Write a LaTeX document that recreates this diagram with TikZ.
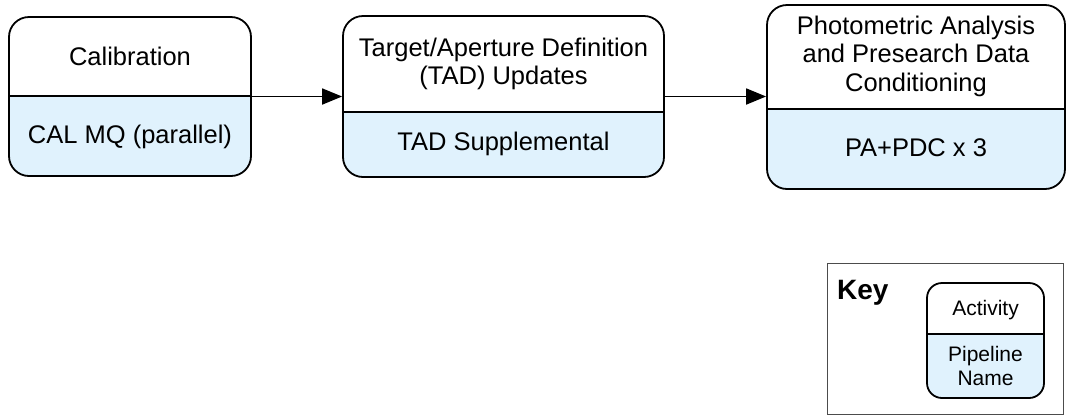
\documentclass[tikz,border=0pt]{standalone}
\usepackage{fontspec}
\setmainfont{Liberation Sans}
\usetikzlibrary{arrows.meta,calc}
\definecolor{pipeblue}{RGB}{224,242,253}
\tikzset{
  frame/.style={draw=black, line width=1.8pt, rounded corners=#1, inner sep=0pt},
  frame/.default=20pt,
  lbl/.style={align=center, font=\fontsize{25.5}{28.5}\selectfont, inner sep=0pt},
  klbl/.style={align=center, font=\fontsize{21}{24}\selectfont, inner sep=0pt},
  arr/.style={draw=black, line width=1.8pt, -{Triangle[length=20pt,width=16pt]}}
}
% \actbox{name}{x1}{y1}{x2}{y2}{ydiv}{radius}
\newcommand{\actbox}[7]{%
  \path (#2,#3) coordinate (#1nw) (#4,#5) coordinate (#1se) (#2,#6) coordinate (#1dw) (#4,#6) coordinate (#1de);
  \node[frame=#7, draw=none, minimum width={(#4-#2)*1pt}, minimum height={(#5-#3)*1pt}] (#1) at ({(#2+#4)/2},{(#3+#5)/2}) {};
  \begin{scope}
    \clip[rounded corners=#7] (#1nw) rectangle (#1se);
    \fill[pipeblue] (#1dw) rectangle (#1se);
  \end{scope}
  \draw[line width=1.8pt] (#1dw) -- (#1de);
  \draw[line width=1.8pt, rounded corners=#7] (#1nw) rectangle (#1se);
}
\begin{document}
\begin{tikzpicture}[x=1pt,y=-1pt]
\useasboundingbox (0,0) rectangle (1066,416);
\actbox{b1}{9}{17}{251}{176}{96}{20pt}
\actbox{b2}{343}{16}{664}{177}{112}{20pt}
\actbox{b3}{767}{5}{1065}{189}{109}{20pt}
\node[lbl] (t1) at (130,56.5) {Calibration};
\node[lbl] (p1) at (130,137) {CAL MQ (parallel)};
\node[lbl] (t2) at (503.5,64) {Target/Aperture Definition\\(TAD) Updates};
\node[lbl] (p2) at (503.5,144) {TAD Supplemental};
\node[lbl] (t3) at (916,56) {Photometric Analysis\\and Presearch Data\\Conditioning};
\node[lbl] (p3) at (916,148) {PA+PDC x 3};
\draw[arr] (b1.east) -- (b2.west);
\draw[arr] (b2.east) -- (b3.west |- b2.east);
% key
\node[draw=black!70, line width=0.8pt, minimum width=236pt, minimum height=151pt, inner sep=0pt] (key) at (945,338.5) {};
\node[font=\fontsize{28}{32}\selectfont\bfseries, anchor=base west, inner sep=0pt] (keylbl) at (837,299) {Key};
\actbox{kb}{927}{283}{1044}{398}{334}{15pt}
\node[klbl] (ka) at (985.5,310) {Activity};
\node[klbl] (kp) at (985.5,366) {Pipeline\\Name};
\end{tikzpicture}
\end{document}
